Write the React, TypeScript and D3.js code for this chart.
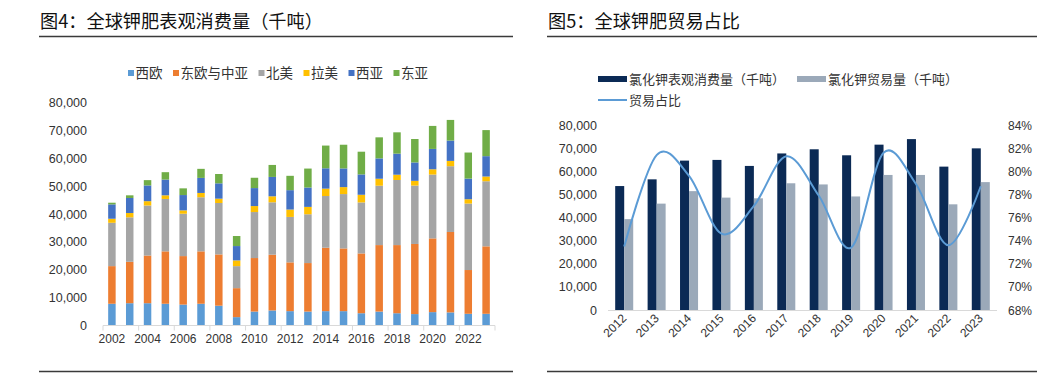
import React from "react";
import * as d3 from "d3";

// ---------- Figure 4 data (thousand tonnes) ----------
const years4 = ["2002","2003","2004","2005","2006","2007","2008","2009","2010","2011","2012","2013","2014","2015","2016","2017","2018","2019","2020","2021","2022","2023"];
const westEurope = [7800, 8000, 8000, 7800, 7500, 7800, 7100, 3000, 5000, 5400, 5150, 5000, 5150, 5150, 4400, 5000, 4400, 4100, 4800, 4700, 4200, 4200];
const eastEuropeCA = [13500, 14850, 17100, 18800, 17400, 18800, 18400, 10400, 19200, 20000, 17500, 17400, 22750, 22500, 21450, 23850, 24450, 25150, 26450, 28850, 15700, 24200];
const northAmerica = [15550, 15950, 17950, 18800, 15200, 19400, 18450, 7900, 16500, 18800, 16300, 17500, 18550, 19500, 18300, 21300, 23350, 20950, 22900, 23600, 23850, 23350];
const latinAmerica = [1450, 1550, 1550, 1300, 1200, 1550, 1550, 2050, 2150, 2150, 2650, 2650, 2650, 2500, 2750, 2500, 1900, 1700, 1900, 1900, 1550, 1700];
const westAsia = [5150, 5400, 5650, 5650, 5500, 5400, 5500, 5150, 6450, 6950, 6950, 6950, 7300, 6700, 7300, 7300, 7550, 6600, 7300, 7300, 7400, 7300];
const eastAsia = [600, 950, 1900, 2650, 2400, 3250, 3350, 3600, 3700, 4300, 5150, 6800, 8150, 8500, 8150, 7550, 7650, 8400, 8250, 7400, 9350, 9350];
const regionNames = ["西欧", "东欧与中亚", "北美", "拉美", "西亚", "东亚"];
const regionColors = ["#5B9BD5", "#ED7D31", "#A5A5A5", "#FFC000", "#4472C4", "#70AD47"];
const yTicks4 = [0, 10000, 20000, 30000, 40000, 50000, 60000, 70000, 80000];

// ---------- Figure 5 data ----------
const years5 = ["2012","2013","2014","2015","2016","2017","2018","2019","2020","2021","2022","2023"];
const consumption = [53600, 56500, 64600, 64900, 62300, 67700, 69500, 66900, 71500, 73900, 62000, 69900];
const trade = [39300, 46000, 51400, 48600, 48300, 54800, 54300, 49100, 58400, 58400, 45700, 55300];
const tradeShare = [73.5, 81.4, 79.6, 74.6, 77.0, 81.3, 77.9, 73.4, 81.6, 78.9, 73.6, 78.7];
const yTicks5 = [0, 10000, 20000, 30000, 40000, 50000, 60000, 70000, 80000];
const pctTicks5 = [68, 70, 72, 74, 76, 78, 80, 82, 84];

const CJK = '"Noto Sans CJK SC", "Noto Sans", sans-serif';
const NUM = '"Liberation Sans", Arial, sans-serif';
const fmt = d3.format(",");

function Fig4() {
  const x = d3.scaleBand<string>().domain(years4).range([103, 495]).paddingInner(0.58).paddingOuter(0.29);
  const y = d3.scaleLinear().domain([0, 80000]).range([325.5, 102.5]);
  const series = [westEurope, eastEuropeCA, northAmerica, latinAmerica, westAsia, eastAsia];
  const rows = years4.map((yr, i) => {
    const r: any = { year: yr };
    series.forEach((s, k) => (r["k" + k] = s[i]));
    return r;
  });
  const stack = d3.stack<any>().keys(series.map((_, k) => "k" + k))(rows);
  const step = x.step();
  // legend layout
  const fs = 13.5;
  let lx = 128;
  const legend = regionNames.map((n, i) => {
    const item = { n, c: regionColors[i], x: lx };
    lx += 7.5 + n.length * fs + 10.5;
    return item;
  });
  return (
    <g>
      <text x={40} y={28} fontFamily={CJK} fontSize={18.2} fill="#111">图4：全球钾肥表观消费量（千吨）</text>
      <line x1={39} x2={513} y1={36.5} y2={36.5} stroke="#3a3a3a" strokeWidth={1.3} />
      {legend.map((l) => (
        <g key={l.n}>
          <rect x={l.x} y={70} width={6} height={6} fill={l.c} />
          <text x={l.x + 7.5} y={77.5} fontFamily={CJK} fontSize={fs} fill="#333">{l.n}</text>
        </g>
      ))}
      {yTicks4.map((t) => (
        <text key={t} x={87} y={y(t) + 4.5} textAnchor="end" fontFamily={NUM} fontSize={12.5} fill="#333">{fmt(t)}</text>
      ))}
      {stack.map((layer, k) => (
        <g key={k} fill={regionColors[k]}>
          {layer.map((d, i) => (
            <rect key={i} x={x(years4[i])!} width={x.bandwidth()} y={y(d[1])} height={y(d[0]) - y(d[1])} />
          ))}
        </g>
      ))}
      <line x1={103} x2={495} y1={325.5} y2={325.5} stroke="#D9D9D9" strokeWidth={1} />
      {years4.map((yr, i) =>
        i % 2 === 0 ? (
          <line key={"t" + yr} x1={103 + i * step} x2={103 + i * step} y1={325.5} y2={330.5} stroke="#D9D9D9" />
        ) : null
      )}
      <line x1={495} x2={495} y1={325.5} y2={330.5} stroke="#D9D9D9" />
      {years4.map((yr, i) =>
        i % 2 === 0 ? (
          <text key={"l" + yr} x={x(yr)! + x.bandwidth() / 2} y={343} textAnchor="middle" fontFamily={NUM} fontSize={12} fill="#333">{yr}</text>
        ) : null
      )}
      <line x1={39} x2={513} y1={371.5} y2={371.5} stroke="#3a3a3a" strokeWidth={1.3} />
    </g>
  );
}

function Fig5() {
  const x = d3.scaleBand<string>().domain(years5).range([608, 997]).paddingInner(0.444).paddingOuter(0.222);
  const sub = d3.scaleBand<string>().domain(["c", "t"]).range([0, x.bandwidth()]);
  const y = d3.scaleLinear().domain([0, 80000]).range([310, 125]);
  const yp = d3.scaleLinear().domain([68, 84]).range([310, 125]);
  const line = d3
    .line<number>()
    .x((_, i) => x(years5[i])! + x.bandwidth() / 2)
    .y((d) => yp(d))
    .curve(d3.curveCardinal.tension(0));
  return (
    <g>
      <text x={548} y={28} fontFamily={CJK} fontSize={18.2} fill="#111">图5：全球钾肥贸易占比</text>
      <line x1={547} x2={1037} y1={36.5} y2={36.5} stroke="#3a3a3a" strokeWidth={1.3} />
      <rect x={598} y={76} width={29} height={6} fill="#0B2A55" />
      <text x={629} y={83.5} fontFamily={CJK} fontSize={13} fill="#333">氯化钾表观消费量（千吨）</text>
      <rect x={797} y={76} width={29} height={6} fill="#9BA9B9" />
      <text x={828} y={83.5} fontFamily={CJK} fontSize={13} fill="#333">氯化钾贸易量（千吨）</text>
      <line x1={598} x2={627} y1={100} y2={100} stroke="#5B9BD5" strokeWidth={2} />
      <text x={629} y={104.5} fontFamily={CJK} fontSize={13} fill="#333">贸易占比</text>
      {yTicks5.map((t) => (
        <text key={t} x={597} y={y(t) + 4.5} textAnchor="end" fontFamily={NUM} fontSize={12.5} fill="#333">{fmt(t)}</text>
      ))}
      {pctTicks5.map((t) => (
        <text key={t} x={1008} y={yp(t) + 4.5} textAnchor="start" fontFamily={NUM} fontSize={12} fill="#333">{t}%</text>
      ))}
      {years5.map((yr, i) => (
        <g key={yr}>
          <rect x={x(yr)! + sub("c")!} width={sub.bandwidth()} y={y(consumption[i])} height={y(0) - y(consumption[i])} fill="#0B2A55" />
          <rect x={x(yr)! + sub("t")!} width={sub.bandwidth()} y={y(trade[i])} height={y(0) - y(trade[i])} fill="#9BA9B9" />
        </g>
      ))}
      <line x1={608} x2={997} y1={310.5} y2={310.5} stroke="#D9D9D9" />
      <path d={line(tradeShare)!} fill="none" stroke="#5B9BD5" strokeWidth={2} />
      {years5.map((yr) => {
        const cx = x(yr)! + x.bandwidth() / 2 + 3;
        const cy = 319;
        return (
          <text key={"l" + yr} x={cx} y={cy} textAnchor="end" transform={`rotate(-45 ${cx} ${cy})`} fontFamily={NUM} fontSize={12} fill="#333">{yr}</text>
        );
      })}
      <line x1={547} x2={1037} y1={371.5} y2={371.5} stroke="#3a3a3a" strokeWidth={1.3} />
    </g>
  );
}

export default function App() {
  return (
    <svg width={1047} height={374} style={{ position: "absolute", left: 0, top: 0, background: "#fff" }}>
      <rect width={1047} height={374} fill="#fff" />
      <Fig4 />
      <Fig5 />
    </svg>
  );
}
